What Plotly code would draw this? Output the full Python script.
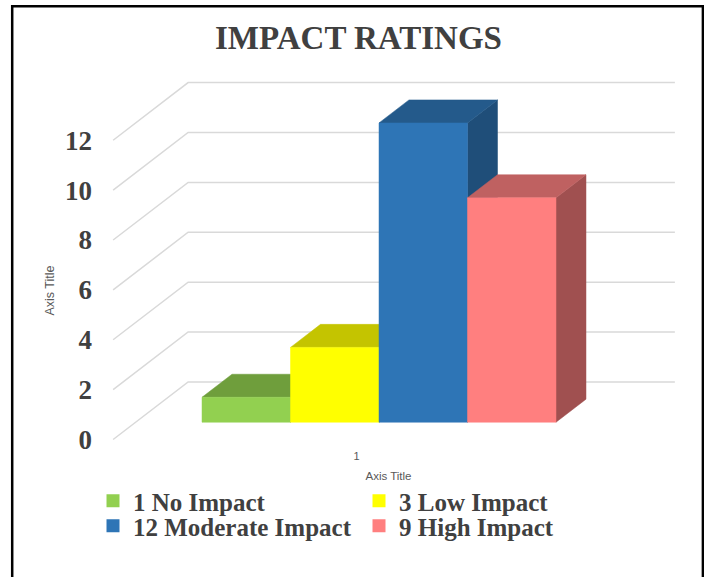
import plotly.graph_objects as go

# ---------------- data ----------------
categories = ["1"]
series_names = ["1 No Impact", "3 Low Impact", "12 Moderate Impact", "9 High Impact"]
series_values = [1, 3, 12, 9]
y_ticks = [0, 2, 4, 6, 8, 10, 12]
y_tick_labels = ["0", "2", "4", "6", "8", "10", "12"]

# ---------------- styles ----------------
front_colors = ["#92D050", "#FFFF00", "#2E75B6", "#FF7F7F"]
top_colors = ["#6F9E3C", "#C4C400", "#245A8B", "#BF6161"]
side_colors = ["#5E8733", "#A8A800", "#1F4E79", "#A05050"]
legend_rows = ["legend", "legend", "legend2", "legend2"]
grid_color = "#D9D9D9"
text_color = "#404040"
serif = "Liberation Serif"
sans = "Liberation Sans"

# ---------------- geometry (oblique 3-D look) ----------------
W, H = 704, 577
ML, MR, MT, MB = 93, 20, 70, 66
plot_w = W - ML - MR
plot_h = H - MT - MB
px_per_x = 88.5      # pixels per bar width
px_per_y = 24.94     # pixels per value unit
x_center_px = 356.5  # category centre on front plane
y_zero_px = 439.5    # value 0 on front plane

DX = 75.0 / px_per_x    # depth offset (x data units) for full depth
DY = 57.6 / px_per_y    # depth offset (y data units) for full depth
Z_FRONT, Z_BACK = 0.30, 0.70
WALL_HALF = 2.75
BAR_W = 1.0

x_range = [(ML - x_center_px) / px_per_x, (W - MR - x_center_px) / px_per_x]
y_range = [(y_zero_px - (H - MB)) / px_per_y, (y_zero_px - MT) / px_per_y]


def proj(x, v, z):
    return x + z * DX, v + z * DY


def poly(points):
    xs = [p[0] for p in points] + [points[0][0]]
    ys = [p[1] for p in points] + [points[0][1]]
    return xs, ys


fig = go.Figure()

# walls: side-wall diagonals + back-wall horizontals
gx, gy = [], []
for v in y_ticks:
    a = proj(-WALL_HALF, v, 0)
    b = proj(-WALL_HALF, v, 1)
    c = proj(WALL_HALF, v, 1)
    gx += [a[0], b[0], c[0], None]
    gy += [a[1], b[1], c[1], None]
fig.add_trace(go.Scatter(x=gx, y=gy, mode="lines",
                         line=dict(color=grid_color, width=1.5),
                         hoverinfo="skip", showlegend=False))

# bars (painter's order, left to right)
n = len(series_values)
for i, (name, v) in enumerate(zip(series_names, series_values)):
    xl = -n / 2 * BAR_W + i * BAR_W
    xr = xl + BAR_W
    side = [proj(xr, 0, Z_FRONT), proj(xr, 0, Z_BACK), proj(xr, v, Z_BACK), proj(xr, v, Z_FRONT)]
    top = [proj(xl, v, Z_FRONT), proj(xr, v, Z_FRONT), proj(xr, v, Z_BACK), proj(xl, v, Z_BACK)]
    front = [proj(xl, 0, Z_FRONT), proj(xr, 0, Z_FRONT), proj(xr, v, Z_FRONT), proj(xl, v, Z_FRONT)]
    for pts, col in ((side, side_colors[i]), (top, top_colors[i]), (front, front_colors[i])):
        xs, ys = poly(pts)
        fig.add_trace(go.Scatter(x=xs, y=ys, mode="lines", fill="toself",
                                 fillcolor=col, line=dict(color=col, width=0.5),
                                 name=name, hoverinfo="name", showlegend=False))

# legend entries
for i, name in enumerate(series_names):
    fig.add_trace(go.Scatter(x=[None], y=[None], mode="markers", name=name,
                             marker=dict(symbol="square", size=13, color=front_colors[i]),
                             legend=legend_rows[i], showlegend=True))

legend_font = dict(family=serif, size=25, color=text_color, weight="bold")

fig.update_layout(
    width=W, height=H,
    margin=dict(l=ML, r=MR, t=MT, b=MB, autoexpand=False),
    paper_bgcolor="white", plot_bgcolor="rgba(0,0,0,0)",
    title=dict(text="IMPACT RATINGS", x=358.5 / W, xref="container", xanchor="center",
               y=1 - 37 / H, yref="container", yanchor="middle",
               font=dict(family=serif, size=33, color=text_color, weight="bold")),
    xaxis=dict(range=x_range, showgrid=False, zeroline=False, showline=False,
               tickvals=[0], ticktext=categories, ticks="",
               tickfont=dict(family=sans, size=11, color="#595959"),
               anchor="free", position=(H - MB - 448) / plot_h,
               title=dict(text="Axis Title", standoff=10,
                          font=dict(family=sans, size=11.5, color="#595959")),
               fixedrange=True),
    yaxis=dict(range=y_range, showgrid=False, zeroline=False, showline=False,
               tickvals=y_ticks, ticktext=y_tick_labels, ticks="",
               tickfont=dict(family=serif, size=27, color=text_color, weight="bold"),
               ticklabelstandoff=0,
               title=dict(text="Axis Title", standoff=7,
                          font=dict(family=sans, size=12.5, color="#595959")),
               fixedrange=True),
    legend=dict(orientation="h", x=0, xanchor="left", y=(H - MB - 501) / plot_h,
                yanchor="middle", entrywidth=221, entrywidthmode="pixels",
                font=legend_font, bgcolor="rgba(0,0,0,0)"),
    legend2=dict(orientation="h", x=0, xanchor="left", y=(H - MB - 526) / plot_h,
                 yanchor="middle", entrywidth=221, entrywidthmode="pixels",
                 font=legend_font, bgcolor="rgba(0,0,0,0)"),
    shapes=[dict(type="rect", xref="paper", yref="paper",
                 x0=(12.2 - ML) / plot_w, x1=(702.9 - ML) / plot_w,
                 y0=(H - MB - 6.2) / plot_h, y1=(H - MB - 620) / plot_h,
                 line=dict(color="black", width=2.5), fillcolor="rgba(0,0,0,0)",
                 layer="above")],
    showlegend=True,
)

fig.write_html("out.html")
